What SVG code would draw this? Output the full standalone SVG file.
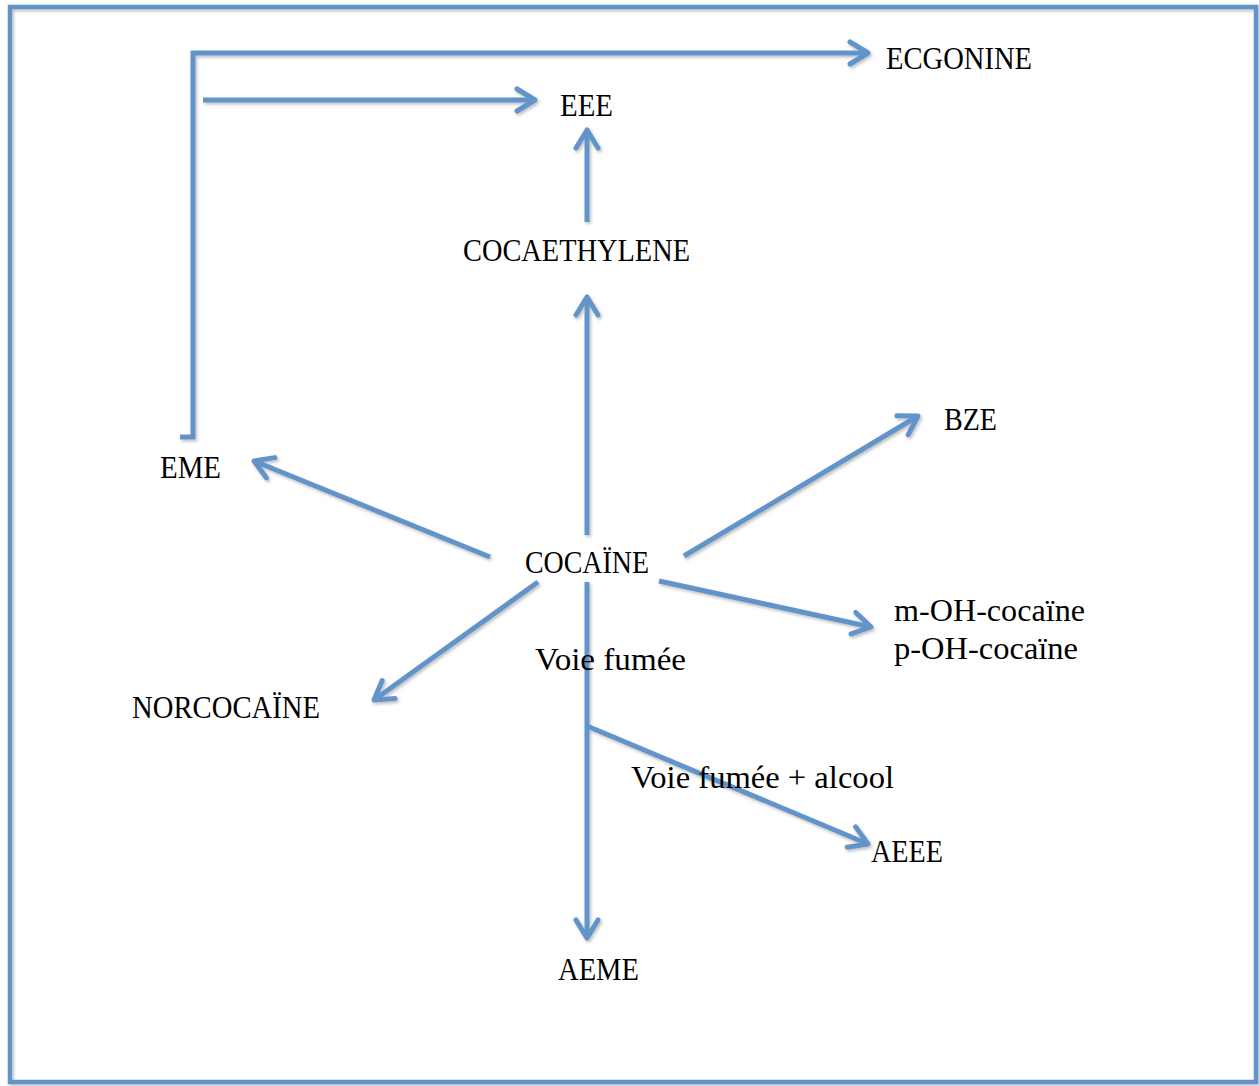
<svg xmlns="http://www.w3.org/2000/svg" width="1259" height="1086" viewBox="0 0 1259 1086">
<style>
  .ln { fill: none; stroke: #6394c9; stroke-width: 5; stroke-linecap: butt; stroke-linejoin: miter; }
  .t { font-family: "Liberation Serif", "DejaVu Serif", serif; font-size: 31px; fill: #000; }
</style>
<defs>
  <filter id="sh" x="-5%" y="-5%" width="110%" height="110%">
    <feDropShadow dx="1.5" dy="2" stdDeviation="1.5" flood-color="#000" flood-opacity="0.25"/>
  </filter>
  <marker id="ah" viewBox="-24 -14 28 28" refX="0" refY="0" markerWidth="28" markerHeight="28" markerUnits="userSpaceOnUse" orient="auto">
    <polyline points="-18,-11 0,0 -18,11" fill="none" stroke="#6394c9" stroke-width="5" stroke-linecap="round" stroke-linejoin="round"/>
  </marker>
</defs>
<rect width="1259" height="1086" fill="#fff"/>
<rect x="10" y="7" width="1246" height="1075" fill="none" stroke="#6394c9" stroke-width="4.5" filter="url(#sh)"/>
<g id="connectors" filter="url(#sh)">
  <polyline class="ln" points="180,437 193,437 193,53 868,53" marker-end="url(#ah)"/>
  <line class="ln" x1="203" y1="100" x2="535" y2="100" marker-end="url(#ah)"/>
  <line class="ln" x1="587" y1="222" x2="587" y2="130" marker-end="url(#ah)"/>
  <line class="ln" x1="587" y1="535" x2="587" y2="297" marker-end="url(#ah)"/>
  <line class="ln" x1="684" y1="556" x2="918" y2="416" marker-end="url(#ah)"/>
  <line class="ln" x1="490" y1="557" x2="254" y2="461" marker-end="url(#ah)"/>
  <line class="ln" x1="538" y1="582" x2="374" y2="700" marker-end="url(#ah)"/>
  <line class="ln" x1="659" y1="581" x2="871" y2="627" marker-end="url(#ah)"/>
  <line class="ln" x1="587" y1="582" x2="587" y2="938" marker-end="url(#ah)"/>
  <line class="ln" x1="587" y1="726" x2="868" y2="844" marker-end="url(#ah)"/>
</g>
<g id="ecgonine"><text class="t" x="886" y="69" textLength="146" lengthAdjust="spacingAndGlyphs">ECGONINE</text></g>
<g id="eee"><text class="t" x="560" y="116" textLength="53" lengthAdjust="spacingAndGlyphs">EEE</text></g>
<g id="cocaethylene"><text class="t" x="463" y="261" textLength="227" lengthAdjust="spacingAndGlyphs">COCAETHYLENE</text></g>
<g id="bze"><text class="t" x="944" y="430" textLength="53" lengthAdjust="spacingAndGlyphs">BZE</text></g>
<g id="eme"><text class="t" x="160" y="478" textLength="61" lengthAdjust="spacingAndGlyphs">EME</text></g>
<g id="cocaine"><text class="t" x="525" y="573" textLength="124" lengthAdjust="spacingAndGlyphs">COCAÏNE</text></g>
<g id="voie-fumee"><text class="t" x="535" y="670" textLength="151" lengthAdjust="spacingAndGlyphs">Voie fumée</text></g>
<g id="norcocaine"><text class="t" x="132" y="718" textLength="188" lengthAdjust="spacingAndGlyphs">NORCOCAÏNE</text></g>
<g id="oh-cocaine">
  <text class="t" x="894" y="621" textLength="191" lengthAdjust="spacingAndGlyphs">m-OH-cocaïne</text>
  <text class="t" x="894" y="659" textLength="184" lengthAdjust="spacingAndGlyphs">p-OH-cocaïne</text>
</g>
<g id="voie-fumee-alcool"><text class="t" x="631" y="788" textLength="263" lengthAdjust="spacingAndGlyphs">Voie fumée + alcool</text></g>
<g id="aeee"><text class="t" x="871" y="862" textLength="72" lengthAdjust="spacingAndGlyphs">AEEE</text></g>
<g id="aeme"><text class="t" x="558" y="980" textLength="81" lengthAdjust="spacingAndGlyphs">AEME</text></g>
</svg>
